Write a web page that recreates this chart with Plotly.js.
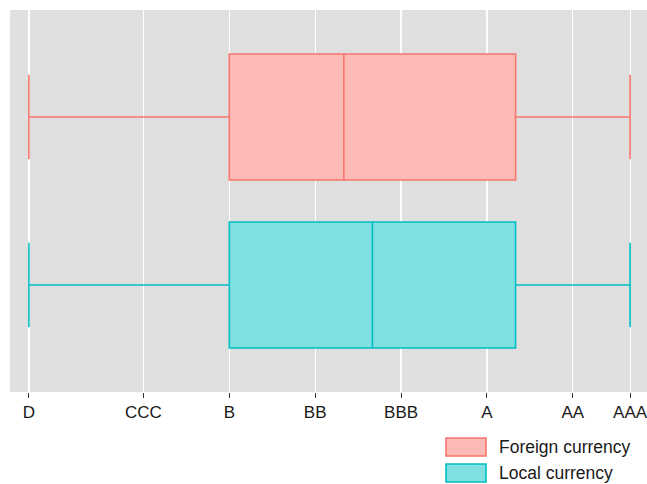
<!DOCTYPE html>
<html><head><meta charset="utf-8">
<script src="https://cdn.plot.ly/plotly-3.0.1.min.js"></script>
<style>html,body{margin:0;padding:0;background:#fff}#c{width:647px;height:484px}</style>
</head><body><div id="c"></div>
<script>
const series = ['Foreign currency', 'Local currency'];
const seriesPos = [1, 0];
const q1 = [7, 7];
const median = [11, 12];
const q3 = [17, 17];
const lowerFence = [0, 0];
const upperFence = [21, 21];
const tickVals = [0, 4, 7, 10, 13, 16, 19, 21];
const tickText = ['D', 'CCC', 'B', 'BB', 'BBB', 'A', 'AA', 'AAA'];
const lineColors = ['#F8766D', '#00BFC4'];
const fillColors = ['#FBBAB6', '#80DFE1'];

const traces = series.map((s, i) => ({
  type: 'box', orientation: 'h', name: s,
  y: [seriesPos[i]],
  q1: [q1[i]], median: [median[i]], q3: [q3[i]],
  lowerfence: [lowerFence[i]], upperfence: [upperFence[i]],
  boxpoints: false, width: 0.75, whiskerwidth: 0.67,
  line: {color: lineColors[i], width: 1.6},
  fillcolor: fillColors[i], showlegend: false, hoverinfo: 'skip'
}));

const plotL = 10, plotR = 647, plotT = 10, plotB = 392;
const W = plotR - plotL, H = plotB - plotT;
const px = x => (x - plotL) / W, py = y => (plotB - y) / H;
const swY = [[438, 456], [464, 482]];
const shapes = series.map((s, i) => ({
  type: 'rect', xref: 'paper', yref: 'paper',
  x0: px(446), x1: px(486), y0: py(swY[i][1]), y1: py(swY[i][0]),
  line: {color: lineColors[i], width: 1.6}, fillcolor: fillColors[i]
}));
const annotations = series.map((s, i) => ({
  xref: 'paper', yref: 'paper', x: px(497), y: py((swY[i][0] + swY[i][1]) / 2),
  xanchor: 'left', yanchor: 'middle', text: s, showarrow: false,
  font: {family: 'Liberation Sans, Arial, sans-serif', size: 17.5, color: '#1a1a1a'}
}));

const layout = {
  width: 647, height: 484,
  margin: {l: plotL, r: 647 - plotR, t: plotT, b: 484 - plotB},
  paper_bgcolor: '#ffffff', plot_bgcolor: '#DFDFDF',
  showlegend: false,
  xaxis: {
    range: [-0.66, 21.59], tickvals: tickVals, ticktext: tickText,
    ticklabeloverflow: 'allow',
    showgrid: true, gridcolor: '#ffffff', gridwidth: 1.2, zeroline: false,
    ticks: 'outside', ticklen: 5, tickwidth: 1, tickcolor: '#333333',
    tickfont: {family: 'Liberation Sans, Arial, sans-serif', size: 17, color: '#1a1a1a'},
    showline: false, fixedrange: true
  },
  yaxis: {
    range: [-0.637, 1.637], showticklabels: false, showgrid: false,
    zeroline: false, ticks: '', showline: false
  },
  shapes: shapes, annotations: annotations
};
Plotly.newPlot('c', traces, layout, {displayModeBar: false, staticPlot: true});
</script></body></html>
